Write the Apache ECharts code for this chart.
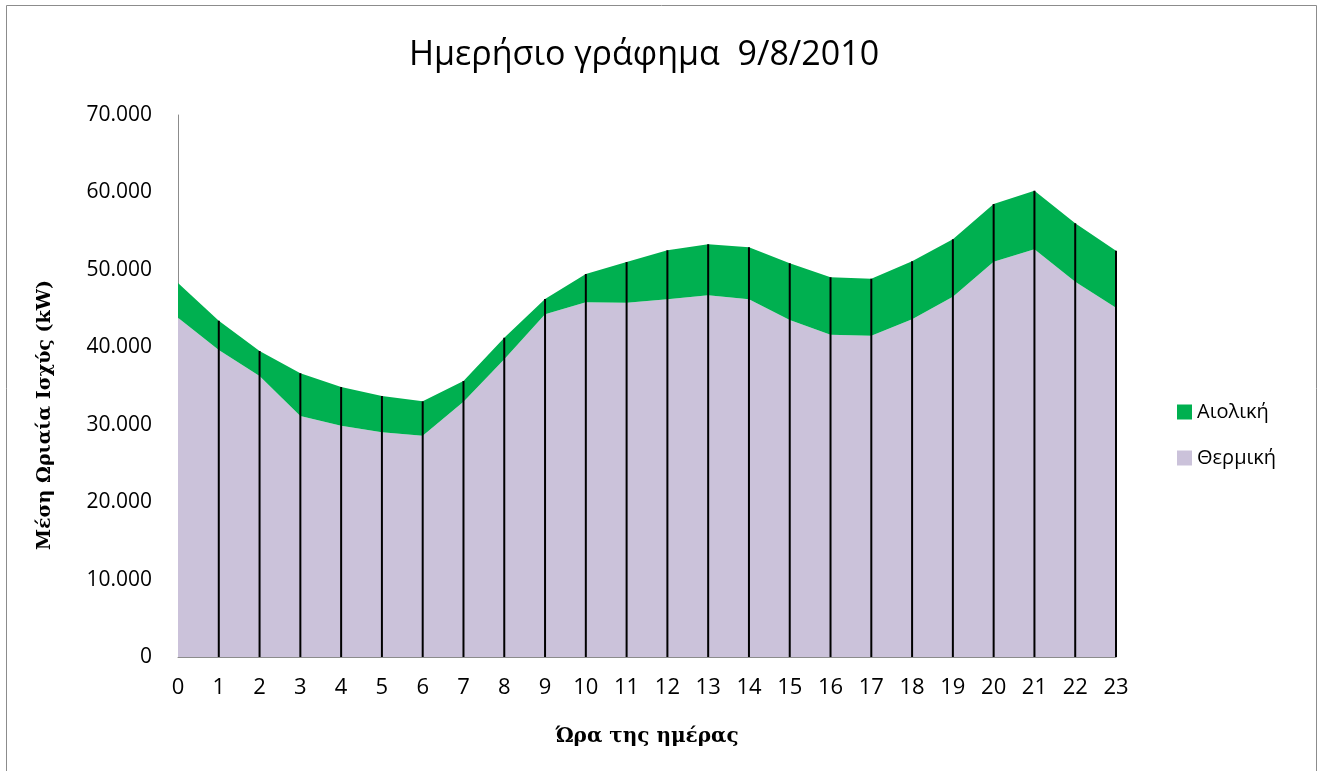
<!DOCTYPE html>
<html>
<head>
<meta charset="utf-8">
<script src="https://cdn.jsdelivr.net/npm/echarts@6/dist/echarts.min.js"></script>
<style>
  html, body { margin: 0; padding: 0; background: #fff; }
  #chart { width: 1319px; height: 771px; }
</style>
</head>
<body>
<div id="chart"></div>
<script>
// ώρες της ημέρας
var hours = ["0","1","2","3","4","5","6","7","8","9","10","11","12","13","14","15","16","17","18","19","20","21","22","23"];
// Θερμική (kW)
var thermal = [43800, 39650, 36290, 31130, 29870, 29020, 28580, 32970, 38450, 44260, 45810, 45750,
               46200, 46710, 46200, 43520, 41630, 41500, 43610, 46540, 51060, 52650, 48470, 45120];
// Αιολική (kW)
var wind = [4500, 3780, 3230, 5510, 5000, 4690, 4440, 2680, 2790, 1980, 3650, 5260,
            6320, 6590, 6710, 7320, 7400, 7360, 7490, 7400, 7440, 7580, 7540, 7360];

var totals = thermal.map(function (v, i) { return v + wind[i]; });

var chart = echarts.init(document.getElementById("chart"));

var option = {
  animation: false,
  title: {
    text: "Ημερήσιο γράφημα  9/8/2010",
    left: 404,
    top: 33,
    textStyle: { fontFamily: "Open Sans", fontSize: 34, fontWeight: "normal", color: "#000" }
  },
  graphic: [
    {
      type: "rect",
      shape: { x: 6.5, y: 5.5, width: 1310, height: 770 },
      style: { fill: null, stroke: "#8c8c8c", lineWidth: 1 }
    },
    {
      type: "text",
      x: 45, y: 415,
      rotation: Math.PI / 2,
      style: {
        text: "Μέση Ωριαία Ισχύς (kW)",
        font: "bold 19px 'DejaVu Serif'",
        fill: "#000",
        align: "center",
        verticalAlign: "middle"
      }
    }
  ],
  legend: {
    orient: "vertical",
    left: 1172,
    top: 397,
    itemGap: 26,
    itemWidth: 15,
    itemHeight: 15,
    icon: "rect",
    data: ["Αιολική", "Θερμική"],
    textStyle: { fontFamily: "Open Sans", fontSize: 20, color: "#000" }
  },
  grid: { left: 178, right: 203, top: 115, bottom: 114 },
  xAxis: {
    type: "category",
    data: hours,
    boundaryGap: false,
    name: "Ώρα της ημέρας",
    nameLocation: "middle",
    nameGap: 70,
    nameTextStyle: { fontFamily: "DejaVu Serif", fontWeight: "bold", fontSize: 20, color: "#000" },
    axisLine: { lineStyle: { color: "#8c8c8c", width: 1 } },
    axisTick: { show: false },
    axisLabel: { fontFamily: "Open Sans", fontSize: 22, color: "#000", margin: 20 }
  },
  yAxis: {
    type: "value",
    min: 0,
    max: 70000,
    interval: 10000,
    axisLine: { show: true, lineStyle: { color: "#8c8c8c", width: 1 } },
    axisTick: { show: false },
    splitLine: { show: false },
    axisLabel: {
      fontFamily: "Open Sans", fontSize: 21, color: "#000", margin: 26,
      formatter: function (v) { return v === 0 ? "0" : (v / 1000) + ".000"; }
    }
  },
  series: [
    {
      name: "Θερμική",
      type: "line",
      stack: "total",
      data: thermal,
      symbol: "none",
      lineStyle: { width: 0 },
      itemStyle: { color: "#CBC2DA" },
      areaStyle: { color: "#CBC2DA", opacity: 1 }
    },
    {
      name: "Αιολική",
      type: "line",
      stack: "total",
      data: wind,
      symbol: "none",
      lineStyle: { width: 0 },
      itemStyle: { color: "#00B050" },
      areaStyle: { color: "#00B050", opacity: 1 }
    },
    {
      // γραμμές πτώσης
      name: "drop",
      type: "custom",
      data: totals.map(function (v, i) { return [i, v]; }),
      z: 5,
      silent: true,
      renderItem: function (params, api) {
        var i = api.value(0);
        if (i === 0) return null;
        var p0 = api.coord([i, 0]);
        var p1 = api.coord([i, api.value(1)]);
        return {
          type: "line",
          shape: { x1: p0[0], y1: p0[1], x2: p1[0], y2: p1[1] },
          style: { stroke: "#000", lineWidth: 2 }
        };
      }
    }
  ]
};

chart.setOption(option);
</script>
</body>
</html>
